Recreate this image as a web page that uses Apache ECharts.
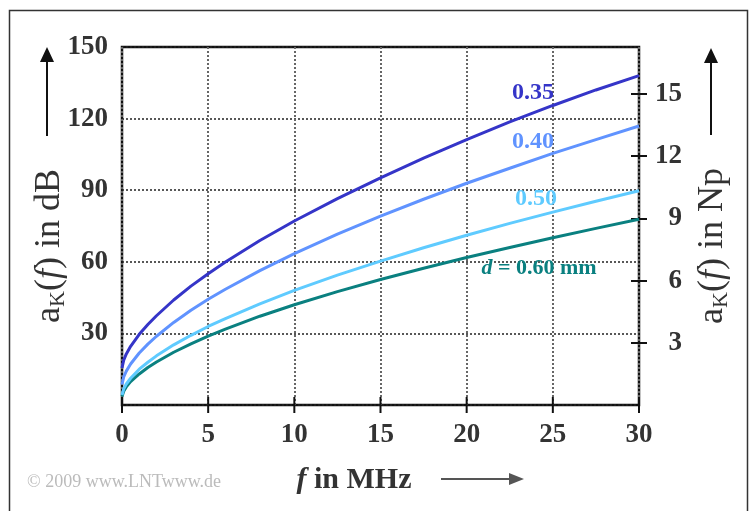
<!DOCTYPE html>
<html>
<head>
<meta charset="utf-8">
<script src="https://cdn.jsdelivr.net/npm/echarts@6/dist/echarts.min.js"></script>
<style>
  html, body { margin: 0; padding: 0; background: #fff; }
  #chart { width: 749px; height: 511px; }
</style>
</head>
<body>
<div id="chart"></div>
<script>
// frequency in MHz
var freq = [0, 0.1, 0.25, 0.5, 1, 1.5, 2, 3, 4, 5, 6, 8, 10, 12.5, 15, 17.5, 20, 22.5, 25, 27.5, 30];

// cable attenuation in dB, one array per wire diameter
var d035 = [15.5, 18.8, 21.4, 24.6, 29.6, 33.7, 37.4, 44.0, 49.8, 55.0, 59.9, 68.9, 77.1, 86.5, 95.2, 103.4, 111.2, 118.6, 125.5, 132.0, 138.0];
var d040 = [8.6, 11.8, 14.2, 17.2, 21.8, 25.5, 28.8, 34.6, 39.7, 44.3, 48.5, 56.3, 63.4, 71.6, 79.1, 86.2, 92.9, 99.2, 105.4, 111.2, 116.9];
var d050 = [4.2, 6.8, 8.8, 11.2, 15.0, 17.9, 20.6, 25.2, 29.2, 32.9, 36.2, 42.4, 48.0, 54.4, 60.3, 65.9, 71.1, 76.1, 80.8, 85.4, 89.8];
var d060 = [3.6, 5.8, 7.6, 9.8, 13.0, 15.7, 18.0, 22.1, 25.6, 28.9, 31.8, 37.2, 42.0, 47.5, 52.6, 57.3, 61.8, 66.0, 70.1, 74.0, 77.8];

var xTicks = [0, 5, 10, 15, 20, 25, 30];
var dbMax = 150;
var dbPerNp = 8.686;

var serif = '"Liberation Serif", "DejaVu Serif", serif';
var labelColor = '#333';

function pairs(ys) {
    var out = [];
    for (var i = 0; i < freq.length; i++) {
        out.push([freq[i], ys[i]]);
    }
    return out;
}

function curve(name, ys, color) {
    return {
        name: name,
        type: 'line',
        xAxisIndex: 0,
        yAxisIndex: 0,
        data: pairs(ys),
        showSymbol: false,
        smooth: false,
        lineStyle: { color: color, width: 3 },
        silent: true
    };
}

var tickLabel = {
    fontFamily: serif,
    fontWeight: 'bold',
    fontSize: 27,
    color: labelColor
};

function yTitle(x, unit) {
    return { type: 'text', x: x, y: 246, rotation: Math.PI / 2,
        style: {
            text: 'a{sub|K}({it|f}) in ' + unit,
            fontFamily: serif, fontSize: 36, fill: '#333',
            align: 'center', verticalAlign: 'middle',
            rich: {
                sub: { fontFamily: serif, fontSize: 22, fill: '#333', padding: [17, 0, 0, 0] },
                it: { fontFamily: serif, fontSize: 36, fontStyle: 'italic', fill: '#333' }
            }
        } };
}

var chart = echarts.init(document.getElementById('chart'));

chart.setOption({
    animation: false,
    backgroundColor: '#fff',
    grid: {
        left: 122, top: 47, right: 110, bottom: 106,
        show: true,
        borderColor: '#111',
        borderWidth: 2.5
    },
    xAxis: {
        type: 'value',
        min: 0, max: 30, interval: 5,
        axisLine: { show: false, onZero: false },
        axisTick: { show: false },
        axisLabel: Object.assign({ margin: 17 }, tickLabel),
        splitLine: { show: true, lineStyle: { color: '#666', type: [2, 2], width: 2 } }
    },
    yAxis: [
        {
            type: 'value',
            min: 0, max: dbMax, interval: 30,
            axisLine: { show: false, onZero: false },
            axisTick: { show: false },
            axisLabel: Object.assign({
                margin: 14,
                formatter: function (v) { return v === 0 ? '' : v; }
            }, tickLabel),
            splitLine: { lineStyle: { color: '#222', type: [2, 2], width: 1.5 } }
        },
        {
            type: 'value',
            position: 'right',
            offset: -8,
            min: 0, max: dbMax / dbPerNp, interval: 3,
            axisLine: { show: false, onZero: false },
            axisTick: { show: true, length: 16, lineStyle: { color: '#111', width: 2 } },
            axisLabel: Object.assign({
                margin: 51, align: 'right', showMinLabel: false, showMaxLabel: false,
                formatter: function (v) { return (v === 0 || v % 3 !== 0) ? '' : v; }
            }, tickLabel),
            splitLine: { show: false }
        }
    ],
    series: [
        curve('0.60', d060, '#0a8080'),
        curve('0.50', d050, '#5fcbff'),
        curve('0.40', d040, '#6093ff'),
        curve('0.35', d035, '#3535c8')
    ]
});

var decorations = [
    // outer frame
    { type: 'rect', shape: { x: 9.5, y: 10.5, width: 738, height: 520 },
      style: { fill: null, stroke: '#333', lineWidth: 1.5 }, silent: true },

    // left title and arrow
    yTitle(50, 'dB'),
    { type: 'line', shape: { x1: 47, y1: 136, x2: 47, y2: 60 }, style: { stroke: '#111', lineWidth: 2 } },
    { type: 'polygon', shape: { points: [[47, 47], [40, 62], [54, 62]] }, style: { fill: '#111' } },

    // right title and arrow
    yTitle(713, 'Np'),
    { type: 'line', shape: { x1: 711, y1: 135, x2: 711, y2: 61 }, style: { stroke: '#111', lineWidth: 2 } },
    { type: 'polygon', shape: { points: [[711, 48], [704, 63], [718, 63]] }, style: { fill: '#111' } },

    // x title and arrow
    { type: 'text', x: 354, y: 480,
      style: {
          text: '{it|f} in MHz',
          fontFamily: serif, fontSize: 30, fontWeight: 'bold', fill: '#333',
          align: 'center', verticalAlign: 'middle',
          rich: {
              it: { fontFamily: serif, fontSize: 30, fontWeight: 'bold', fontStyle: 'italic', fill: '#333' }
          }
      } },
    { type: 'line', shape: { x1: 441, y1: 479, x2: 510, y2: 479 }, style: { stroke: '#555', lineWidth: 2 } },
    { type: 'polygon', shape: { points: [[524, 479], [509, 473], [509, 485]] }, style: { fill: '#555' } },

    // copyright
    { type: 'text', x: 27, y: 482,
      style: { text: '\u00a9 2009 www.LNTwww.de', fontFamily: serif, fontSize: 18,
               fill: '#bbb', align: 'left', verticalAlign: 'middle' } },

    // curve labels
    { type: 'text', x: 533, y: 93,
      style: { text: '0.35', fontFamily: serif, fontSize: 24, fontWeight: 'bold', fill: '#3535c8',
               align: 'center', verticalAlign: 'middle' } },
    { type: 'text', x: 533, y: 142,
      style: { text: '0.40', fontFamily: serif, fontSize: 24, fontWeight: 'bold', fill: '#6093ff',
               align: 'center', verticalAlign: 'middle' } },
    { type: 'text', x: 536, y: 199,
      style: { text: '0.50', fontFamily: serif, fontSize: 24, fontWeight: 'bold', fill: '#5fcbff',
               align: 'center', verticalAlign: 'middle' } },
    { type: 'text', x: 539, y: 268,
      style: { text: '{it|d} = 0.60 mm', fontFamily: serif, fontSize: 22, fontWeight: 'bold', fill: '#0a8080',
               align: 'center', verticalAlign: 'middle',
               rich: { it: { fontFamily: serif, fontSize: 22, fontWeight: 'bold', fontStyle: 'italic', fill: '#0a8080' } } } }
];

// x ticks crossing the bottom frame, placed through the axis scale
var yBase = chart.convertToPixel({ yAxisIndex: 0 }, 0);
for (var i = 0; i < xTicks.length; i++) {
    var px = chart.convertToPixel({ xAxisIndex: 0 }, xTicks[i]);
    decorations.push({
        type: 'line',
        shape: { x1: px, y1: yBase - 8, x2: px, y2: yBase + 8 },
        style: { stroke: '#111', lineWidth: 2 },
        silent: true
    });
}
chart.setOption({ graphic: decorations });
</script>
</body>
</html>
